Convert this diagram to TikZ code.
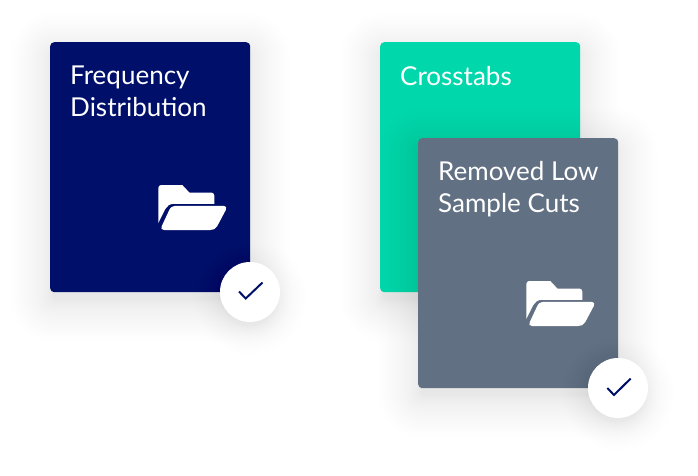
\documentclass[tikz,border=0pt]{standalone}
\usepackage{fontspec}
\setmainfont{Lato}
\definecolor{navy}{HTML}{00106A}
\definecolor{mint}{HTML}{00D7AB}
\definecolor{slate}{HTML}{627083}
\tikzset{
  cardbox/.style={rounded corners=4pt,minimum width=200pt,minimum height=250pt,inner sep=0pt,anchor=north west},
  cardtext/.style={text=white,font=\fontsize{26}{32}\selectfont,align=left,anchor=north west,inner sep=0pt},
  badge/.style={circle,fill=white,minimum size=60pt,inner sep=0pt},
  tick/.style={draw=navy,line width=2pt,line join=miter},
}
% soft shadow: x, y, w, h
\newcommand{\softshadow}[4]{%
  \foreach \i in {1,...,24}{
    \pgfmathsetmacro{\dd}{42*(\i/24)^1.7-3}
    \pgfmathsetmacro{\rr}{max(\dd,0)+4}
    \fill[black,opacity=0.002,rounded corners=\rr pt]
      ({#1-\dd},{#2+10-\dd}) rectangle ({#1+#3+\dd},{#2+10+#4+\dd});
  }}
\newcommand{\softdisc}[2]{%
  \foreach \i in {1,...,16}{
    \pgfmathsetmacro{\dd}{28+28*(\i/16)^1.7}
    \fill[black,opacity=0.0025] (#1,#2+6) circle (\dd);
  }}
\newcommand{\folder}[3]{%
  \begin{scope}[shift={(#1,#2)}]
    \fill[#3] (0,3) arc[start angle=180,end angle=270,radius=3] -- (24,0) -- (31,7.5) -- (53,7.5)
      arc[start angle=270,end angle=360,radius=3] -- (56,18.8) -- (16,18.8)
      .. controls (11,18.8) and (9,21) .. (7,24) -- (0,38) -- cycle;
    \fill[#3] (17,20.8) -- (65.5,20.8) .. controls (68,20.8) and (68.5,23) .. (67.5,25)
      -- (59,41) .. controls (57.5,44) and (55,45) .. (52,45) -- (5.5,45)
      .. controls (3,45) and (2.5,43) .. (3.5,41) -- (10.5,26) .. controls (12,22.5) and (14,20.8) .. (17,20.8) -- cycle;
  \end{scope}}
\begin{document}
\begin{tikzpicture}[x=1pt,y=-1pt]
\useasboundingbox (0,0) rectangle (698,476);
\fill[white] (0,0) rectangle (698,476);
% card 1
\softshadow{50}{42}{200}{250}
\node[cardbox,fill=navy] (freq) at (50,42) {};
\node[cardtext] (freqt) at (70,66) {Frequency\\Distribution};
\folder{158.3}{185}{white}
\softdisc{250}{292}
\node[badge] (fbadge) at (250,292) {};
\draw[tick] (239,291.5) -- (245.7,298.5) -- (262.5,282.5);
% card 2
\softshadow{380}{42}{200}{250}
\node[cardbox,fill=mint] (cross) at (380,42) {};
\node[cardtext] (crosst) at (400,66) {Crosstabs};
% card 3
\softshadow{418}{138}{200}{250}
\node[cardbox,fill=slate] (low) at (418,138) {};
\node[cardtext] (lowt) at (438,161) {Removed Low\\Sample Cuts};
\folder{526.3}{281}{white}
\softdisc{618}{388}
\node[badge] (lbadge) at (618,388) {};
\draw[tick] (607.3,388) -- (614,395) -- (630.7,378.5);
\end{tikzpicture}
\end{document}
